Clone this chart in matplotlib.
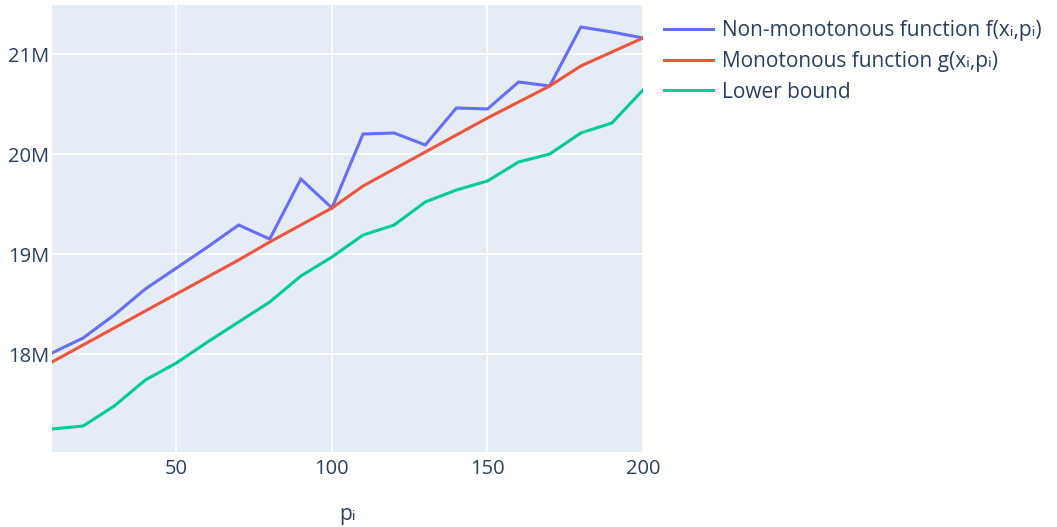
import matplotlib
matplotlib.use("Agg")
import matplotlib.pyplot as plt
from matplotlib.ticker import FuncFormatter

# Daten
p_values = [10, 20, 30, 40, 50, 60, 70, 80, 90, 100,
            110, 120, 130, 140, 150, 160, 170, 180, 190, 200]
non_monotonous = [18.01, 18.16, 18.39, 18.65, 18.86, 19.07, 19.29, 19.15, 19.75, 19.46,
                  20.20, 20.21, 20.09, 20.46, 20.45, 20.72, 20.68, 21.27, 21.22, 21.16]
monotonous = [17.92, 18.09, 18.26, 18.43, 18.60, 18.77, 18.94, 19.12, 19.29, 19.46,
              19.68, 19.85, 20.02, 20.19, 20.36, 20.52, 20.68, 20.88, 21.02, 21.16]
lower_bound = [17.25, 17.28, 17.48, 17.74, 17.91, 18.12, 18.32, 18.52, 18.78, 18.97,
               19.19, 19.29, 19.52, 19.64, 19.73, 19.92, 20.00, 20.21, 20.31, 20.64]

labels = ["Non-monotonous function f(x\u1d62,p\u1d62)",
          "Monotonous function g(x\u1d62,p\u1d62)",
          "Lower bound"]
colors = ["#636efa", "#EF553B", "#00cc96"]
y_ticks = [18e6, 19e6, 20e6, 21e6]
x_ticks = [50, 100, 150, 200]

plt.rcParams["font.family"] = ["Open Sans", "DejaVu Sans"]
text_color = "#2a3f5f"

fig = plt.figure(figsize=(10.57, 5.27), dpi=100)
ax = fig.add_axes([52 / 1057, 75 / 527, 591 / 1057, 447 / 527])
ax.set_facecolor("#E5ECF6")

series = [non_monotonous, monotonous, lower_bound]
for vals, lab, col in zip(series, labels, colors):
    ax.plot(p_values, [v * 1e6 for v in vals], color=col, lw=2.2, label=lab,
            solid_joinstyle="miter", zorder=3)

ax.set_xlim(10, 200)
ax.set_ylim(17.02e6, 21.49e6)
ax.set_xticks(x_ticks)
ax.set_yticks(y_ticks)
ax.yaxis.set_major_formatter(FuncFormatter(lambda v, _: f"{v / 1e6:.0f}M"))
ax.grid(True, color="white", lw=1.3, zorder=0)
ax.set_axisbelow(True)
for s in ax.spines.values():
    s.set_visible(False)
ax.tick_params(length=0, colors=text_color, labelsize=14.5, pad=5)
ax.tick_params(axis="y", pad=2)
ax.set_xlabel("p\u1d62", color=text_color, fontsize=15, labelpad=18)

leg = fig.legend(loc="upper left", bbox_to_anchor=(664 / 1057, 1 - 20 / 527),
                 bbox_transform=fig.transFigure, frameon=False,
                 fontsize=15, handlelength=2.35, handletextpad=0.45,
                 labelspacing=0.47, borderaxespad=0, borderpad=0)
for t in leg.get_texts():
    t.set_color(text_color)

fig.savefig("out.png", dpi=100)
